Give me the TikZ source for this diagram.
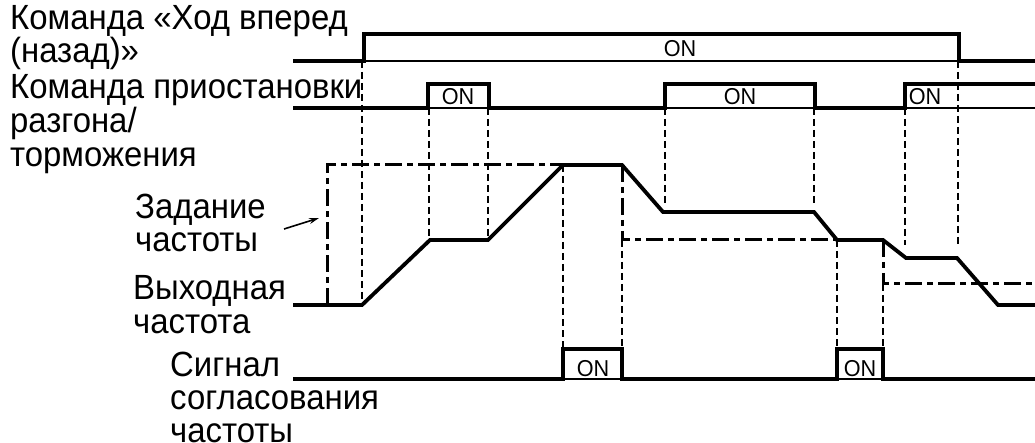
\documentclass[tikz,border=0pt]{standalone}
\usepackage{fontspec}
\setmainfont[FakeStretch=0.94]{Liberation Sans}
\usepackage{tikz}
\usetikzlibrary{arrows.meta,positioning,calc}

\begin{document}
\begin{tikzpicture}[x=1pt,y=-1pt,
 lbl/.style={align=left,anchor=base west,inner sep=0pt,font=\fontsize{35}{32}\selectfont},
 onlbl/.style={anchor=base,inner sep=0pt,font=\fontsize{23}{24}\selectfont},
 sig/.style={line width=3.8pt,line join=miter},
 low/.style={line width=2pt},
 guide/.style={dash pattern=on 7pt off 4pt,line width=1.8pt},
 ref/.style={dash pattern=on 17pt off 5pt on 6pt off 5pt,line width=3pt}]
\useasboundingbox (0,0) rectangle (1035,443);
% labels (anchored at the baseline of the last line)
\node[lbl,font=\fontsize{35}{27}\selectfont] (run) at (10,63) {Команда «Ход вперед\\(назад)»};
\node[lbl,font=\fontsize{35}{34}\selectfont] (hold) at (10,167) {Команда приостановки\\разгона/\\торможения};
\node[lbl,font=\fontsize{35}{33}\selectfont] (fref) at (135,252) {Задание\\частоты};
\node[lbl,font=\fontsize{35}{33}\selectfont] (fout) at (133,333) {Выходная\\частота};
\node[lbl,font=\fontsize{35}{33}\selectfont] (agree) at (170,442) {Сигнал\\согласования\\частоты};
\coordinate (arrtail) at (284,229);
\coordinate (arrtip) at (319,218);
\draw[-{Stealth[length=10pt,width=6pt]},line width=1.6pt] (arrtail) -- (arrtip);
% run command
\draw[sig] (293,61) -- (364,61) -- (364,34) -- (959,34) -- (959,61) -- (1035,61);
\draw[low] (364,61) -- (959,61);
\node[onlbl] (on1) at (680,57) {ON};
% accel/decel hold
\draw[sig] (293,108) -- (428,108) -- (428,84) -- (489,84) -- (489,108) -- (665,108)
 -- (665,84) -- (815,84) -- (815,108) -- (905,108) -- (905,84) -- (1035,84);
\draw[low] (428,108) -- (489,108) (665,108) -- (815,108) (905,108) -- (1035,108);
\node[onlbl] (on2) at (458,105) {ON};
\node[onlbl] (on3) at (740,105) {ON};
\node[onlbl] (on4) at (925,105) {ON};
% frequency reference
\draw[ref] (327,305) -- (327,165) -- (563,165);
\draw[ref] (622,165) -- (622,240) -- (837,240);
\draw[ref] (883,240) -- (883,284) -- (1035,284);
% output frequency
\draw[sig] (293,305) -- (362,305) -- (430,240) -- (488,240) -- (563,165) -- (622,165)
 -- (663,212) -- (814,212) -- (837,240) -- (883,240) -- (906,258) -- (957,258)
 -- (998,305) -- (1035,305);
% frequency agreement
\draw[sig] (293,379) -- (563,379) -- (563,349) -- (622,349) -- (622,379) -- (837,379)
 -- (837,349) -- (883,349) -- (883,379) -- (1035,379);
\draw[low] (563,379) -- (622,379) (837,379) -- (883,379);
\node[onlbl] (on5) at (593,376) {ON};
\node[onlbl] (on6) at (860,376) {ON};
% guides
\draw[guide] (362,61) -- (362,305);
\draw[guide] (429,108) -- (429,240) (488,108) -- (488,240);
\draw[guide] (563,165) -- (563,349) (622,240) -- (622,349);
\draw[guide] (665,108) -- (665,205) (814,108) -- (814,205);
\draw[guide] (837,240) -- (837,349) (883,284) -- (883,349);
\draw[guide] (905,108) -- (905,245) (958,61) -- (958,245);
\end{tikzpicture}
\end{document}
